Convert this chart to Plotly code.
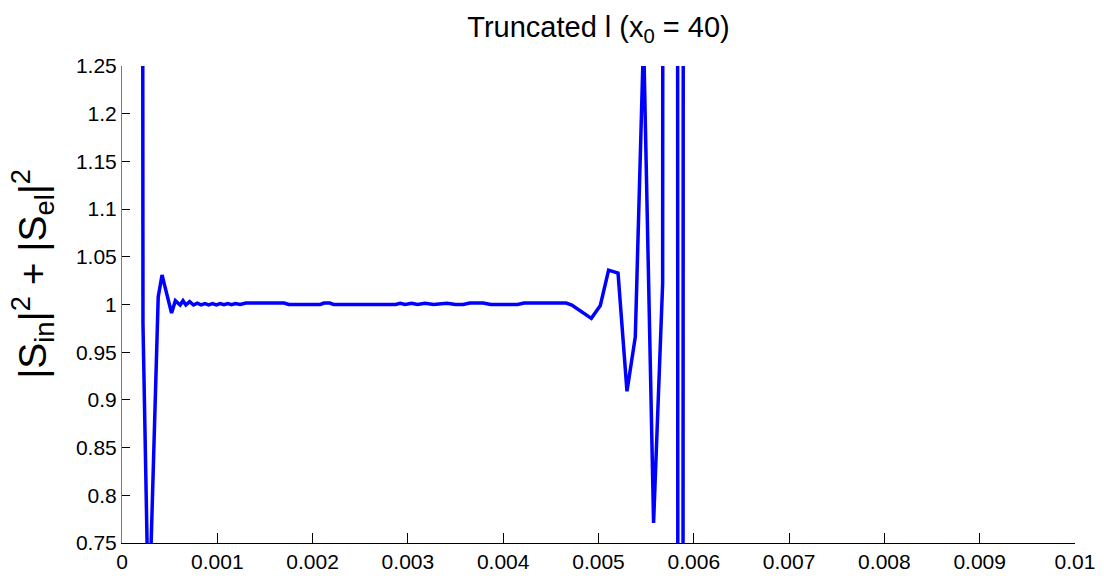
import plotly.graph_objects as go

# ---- data ----
x_vals = [0.000205, 0.00022, 0.00028, 0.00038, 0.00042, 0.00052, 0.00056, 0.00061, 0.00064, 0.00067,
          0.00071, 0.00075, 0.00079, 0.00083, 0.00087, 0.00091, 0.00095, 0.00099, 0.00103, 0.00107,
          0.00111, 0.00115, 0.00119, 0.00124, 0.0013, 0.0017, 0.00175, 0.00208, 0.00212, 0.00218,
          0.00222, 0.00287, 0.00292, 0.00297, 0.00304, 0.0031, 0.00318, 0.00327, 0.00341, 0.0035,
          0.00358, 0.00365, 0.00379, 0.00387, 0.00415, 0.00422, 0.00466, 0.00472, 0.004925, 0.005019,
          0.005106, 0.005205, 0.005299, 0.005386, 0.005473, 0.005578, 0.005673, 0.005764, 0.005859, 0.005953]
s_sum = [3.0, 0.98, 0.66, 1.008, 1.031, 0.991, 1.004, 0.9995, 1.004, 0.9995,
         1.003, 0.9995, 1.0015, 0.9997, 1.001, 0.9997, 1.001, 0.9997, 1.001, 0.9998,
         1.001, 0.9998, 1.001, 1.0, 1.0015, 1.0015, 1.0, 1.0, 1.0015, 1.0015,
         1.0, 1.0, 1.0012, 1.0, 1.0012, 1.0, 1.0012, 1.0, 1.0012, 1.0,
         1.0, 1.0015, 1.0015, 1.0, 1.0, 1.0015, 1.0015, 0.9995, 0.9855, 0.999,
         1.036, 1.033, 0.909, 0.966, 1.28, 0.771, 1.022, 20.0, -6.8, 18.4]

x_ticks = [0, 0.001, 0.002, 0.003, 0.004, 0.005, 0.006, 0.007, 0.008, 0.009, 0.01]
x_tick_text = ["0", "0.001", "0.002", "0.003", "0.004", "0.005", "0.006", "0.007", "0.008", "0.009", "0.01"]
y_ticks = [0.75, 0.8, 0.85, 0.9, 0.95, 1.0, 1.05, 1.1, 1.15, 1.2, 1.25]
y_tick_text = ["0.75", "0.8", "0.85", "0.9", "0.95", "1", "1.05", "1.1", "1.15", "1.2", "1.25"]

title_text = "Truncated l (x<sub>0</sub> = 40)"
ylabel_text = "|S<sub>in</sub>|<sup>2</sup> + |S<sub>el</sub>|<sup>2</sup>"

FONT = "Liberation Sans, Arial, Helvetica, sans-serif"

fig = go.Figure()
fig.add_trace(go.Scatter(x=x_vals, y=s_sum, mode="lines",
                         line=dict(color="#0000ff", width=3.5), showlegend=False))

fig.update_layout(
    width=1104, height=576,
    margin=dict(l=122, r=29, t=66, b=33, autoexpand=False),
    paper_bgcolor="white", plot_bgcolor="white",
    font=dict(family=FONT, color="black", size=20),
    title=dict(text=title_text, x=0.5, xref="paper", xanchor="center",
               y=1 - 27 / 576, yref="container", yanchor="middle",
               font=dict(size=29, family=FONT, color="black")),
    annotations=[dict(text=ylabel_text, textangle=-90, xref="paper", yref="paper",
                      x=-0.093, y=0.565, xanchor="center", yanchor="middle",
                      showarrow=False, font=dict(size=39, family=FONT, color="black"))],
)
fig.update_xaxes(range=[0, 0.01], tickvals=x_ticks, ticktext=x_tick_text,
                 showgrid=False, zeroline=False, showline=True, linecolor="black", linewidth=1,
                 ticks="inside", ticklen=10, tickcolor="black", tickfont=dict(size=21),
                 automargin=False)
fig.update_yaxes(range=[0.75, 1.25], tickvals=y_ticks, ticktext=y_tick_text,
                 showgrid=False, zeroline=False, showline=True, linecolor="#7a7a7a", linewidth=1,
                 ticks="inside", ticklen=8, tickcolor="black", tickfont=dict(size=21),
                 ticklabelstandoff=0, automargin=False)

fig.write_html("out.html")
